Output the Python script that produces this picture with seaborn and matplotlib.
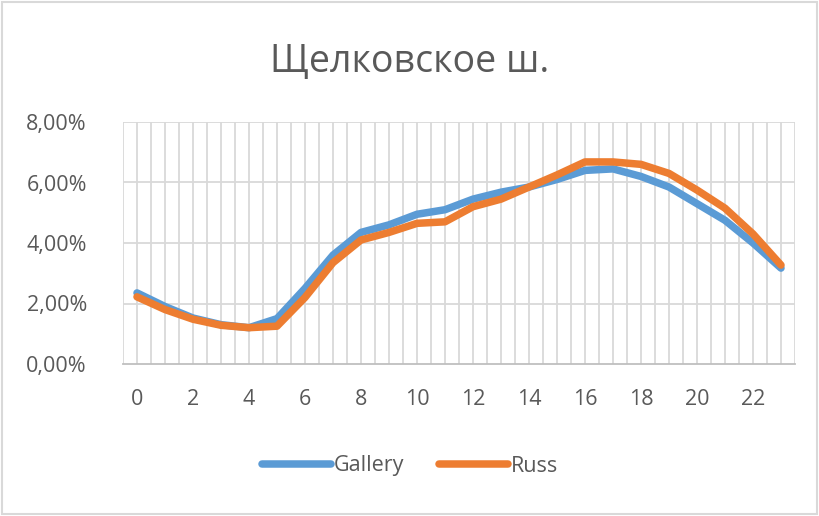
import matplotlib
matplotlib.use("Agg")
import matplotlib.pyplot as plt
import matplotlib.ticker as mticker
import seaborn as sns
import pandas as pd

hours = list(range(24))
gallery = [2.35, 1.9, 1.52, 1.3, 1.2, 1.5, 2.5, 3.6, 4.35, 4.6, 4.95, 5.1,
           5.45, 5.68, 5.85, 6.1, 6.4, 6.45, 6.2, 5.85, 5.3, 4.75, 4.0, 3.17]
russ = [2.22, 1.8, 1.48, 1.28, 1.2, 1.25, 2.2, 3.35, 4.1, 4.35, 4.65, 4.7,
        5.2, 5.45, 5.85, 6.25, 6.68, 6.68, 6.6, 6.3, 5.75, 5.15, 4.3, 3.27]
series_names = ["Gallery", "Russ"]
title = "Щелковское ш."

df = pd.DataFrame({
    "hour": hours * 2,
    "share": gallery + russ,
    "series": [series_names[0]] * 24 + [series_names[1]] * 24,
})

sns.set_style("white")
plt.rcParams["font.family"] = ["Open Sans", "DejaVu Sans"]
text_col = "#595959"
grid_col = "#D9D9D9"

fig = plt.figure(figsize=(8.2, 5.16), dpi=100)
ax = fig.add_axes([123 / 820, 1 - 364 / 516, 672 / 820, 242 / 516])

# gridlines at category borders and centres
for x in [i * 0.5 - 0.5 for i in range(49)]:
    ax.axvline(x, color=grid_col, lw=1.3, zorder=0)
for y in [2, 4, 6, 8]:
    ax.axhline(y, color=grid_col, lw=1.3, zorder=0)

sns.lineplot(data=df, x="hour", y="share", hue="series",
             palette=["#5B9BD5", "#ED7D31"], linewidth=5.4, ax=ax,
             legend=False, zorder=3)

ax.set_xlim(-0.5, 23.5)
ax.set_ylim(0, 8)
ax.set_xticks(range(0, 23, 2))
ax.set_yticks([0, 2, 4, 6, 8])
ax.yaxis.set_major_formatter(mticker.FuncFormatter(lambda v, p: f"{v:.2f}%".replace(".", ",")))
ax.tick_params(axis="both", colors=text_col, labelsize=15.5, length=0)
ax.tick_params(axis="x", pad=18)
ax.tick_params(axis="y", pad=26)
ax.set_xlabel("")
ax.set_ylabel("")
for s in ["top", "right", "left"]:
    ax.spines[s].set_visible(False)
ax.spines["bottom"].set_color("#BFBFBF")
ax.spines["bottom"].set_linewidth(1.3)

fig.text(0.5, 1 - 62 / 516, title, ha="center", va="center",
         fontsize=27, color=text_col)

handles = [plt.Line2D([], [], color=c, lw=5.4, solid_capstyle="round")
           for c in ["#5B9BD5", "#ED7D31"]]
fig.legend(handles, series_names, loc="center", bbox_to_anchor=(0.5, 1 - 466 / 516),
           ncol=2, frameon=False, fontsize=15.5, labelcolor=text_col,
           handlelength=3.2, handletextpad=0.15, columnspacing=1.6)

fig.patches.append(plt.Rectangle((0.002, 0.003), 0.994, 0.994, transform=fig.transFigure,
                                 fill=False, edgecolor="#D9D9D9", lw=1.5))

fig.savefig("out.png", dpi=100)
